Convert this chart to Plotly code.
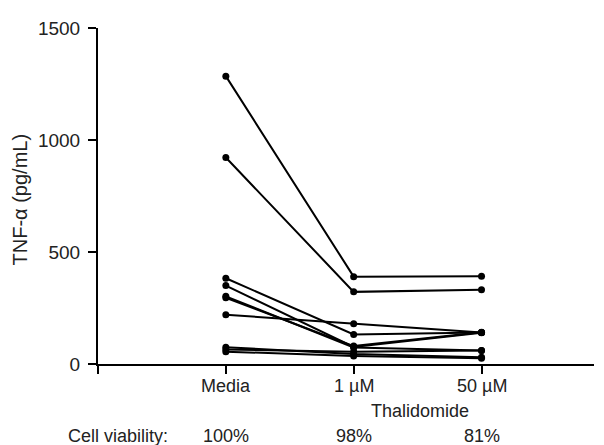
import plotly.graph_objects as go

categories = ["Media", "1 µM", "50 µM"]
cat_pos = [1, 2, 3]
viability = ["100%", "98%", "81%"]
y_ticks = [0, 500, 1000, 1500]

# TNF-alpha (pg/mL) per donor: Media, 1 µM, 50 µM
donors = [
    [1285, 390, 392],
    [922, 322, 332],
    [383, 132, 141],
    [350, 76, 140],
    [302, 74, 60],
    [296, 80, 142],
    [220, 180, 141],
    [75, 45, 30],
    [65, 55, 60],
    [55, 36, 26],
]

fig = go.Figure()
for d in donors:
    fig.add_trace(go.Scatter(
        x=cat_pos, y=d, mode="lines+markers",
        line=dict(color="black", width=2),
        marker=dict(color="black", size=7),
        showlegend=False, hoverinfo="skip",
    ))

font = dict(family="Liberation Sans, Arial, sans-serif", size=18, color="#222")
tick_font = dict(family="Liberation Sans, Arial, sans-serif", size=19, color="#222")

# page has an 8px body margin, so the figure is drawn 8px smaller
fig.update_layout(
    width=596, height=437,
    margin=dict(l=90, r=10, t=11, b=81),
    paper_bgcolor="white", plot_bgcolor="white",
    font=font,
    xaxis=dict(
        range=[0, 3.88], tickvals=[0] + cat_pos, ticktext=["", "", "", ""],
        showline=True, linecolor="black", linewidth=2,
        ticks="outside", ticklen=8, tickwidth=2, tickcolor="black",
        showgrid=False, zeroline=False,
    ),
    yaxis=dict(
        range=[0, 1500], tickvals=y_ticks, tickfont=tick_font,
        showline=True, linecolor="black", linewidth=2,
        ticks="outside", ticklen=8, tickwidth=2, tickcolor="black",
        ticklabelstandoff=4,
        showgrid=False, zeroline=False,
    ),
)

ann = [
    dict(text="Thalidomide", x=2.52, xref="x", y=-0.139),
    dict(text="Cell viability:", x=0.156, xref="x", y=-0.213),
    dict(text="TNF-α (pg/mL)", x=-0.157, xref="paper", y=0.49, textangle=-90,
         font=dict(family="Liberation Sans, Arial, sans-serif", size=20, color="#222")),
]
for c, lab in zip(cat_pos, categories):
    ann.append(dict(text=lab, x=c, xref="x", y=-0.064))
for c, v in zip(cat_pos, viability):
    ann.append(dict(text=v, x=c, xref="x", y=-0.213))
for a in ann:
    a.setdefault("font", font)
    fig.add_annotation(yref="paper", showarrow=False,
                       xanchor="center", yanchor="middle", **a)

fig.write_html("out.html")
